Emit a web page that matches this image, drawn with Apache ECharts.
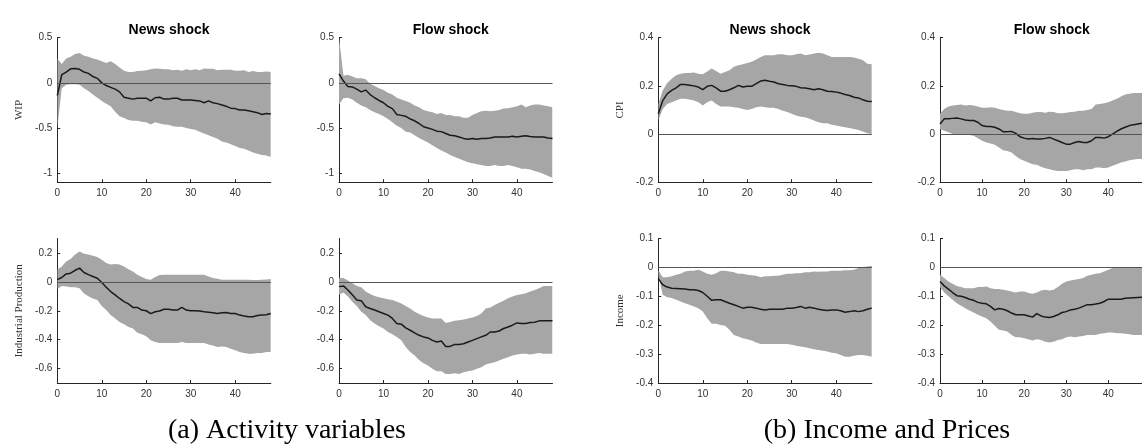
<!DOCTYPE html>
<html>
<head>
<meta charset="utf-8">
<script src="https://cdn.jsdelivr.net/npm/echarts@6/dist/echarts.min.js"></script>
<style>html,body{margin:0;padding:0;background:#fff}#c{width:1142px;height:444px}</style>
</head>
<body>
<div id="c"></div>
<script>
// horizon 0..48
const horizon = Array.from({length: 49}, (_, i) => i);
const xTicks = [0, 10, 20, 30, 40];

// Panel titles / names
const shockTitles = ['News shock', 'Flow shock'];
const varNames = ['WIP', 'Industrial Production', 'CPI', 'Income'];
const captions = ['(a) Activity variables', '(b) Income and Prices'];

// y ranges & ticks
const wipRange = [-1.1, 0.5];   const wipTicks = [-1, -0.5, 0, 0.5];
const ipRange = [-0.7, 0.3];    const ipTicks = [-0.6, -0.4, -0.2, 0, 0.2];
const cpiRange = [-0.2, 0.4];   const cpiTicks = [-0.2, 0, 0.2, 0.4];
const incRange = [-0.4, 0.1];   const incTicks = [-0.4, -0.3, -0.2, -0.1, 0, 0.1];

// WIP - News
const wipNewsMean = [-0.14,0.09,0.12,0.155,0.16,0.15,0.12,0.105,0.07,0.05,0.0,-0.03,-0.05,-0.07,-0.1,-0.16,-0.17,-0.18,-0.17,-0.17,-0.17,-0.2,-0.165,-0.16,-0.18,-0.18,-0.17,-0.17,-0.19,-0.19,-0.19,-0.195,-0.2,-0.22,-0.2,-0.22,-0.23,-0.245,-0.26,-0.28,-0.285,-0.3,-0.3,-0.31,-0.32,-0.33,-0.35,-0.34,-0.345];
const wipNewsHi = [0.27,0.21,0.27,0.29,0.32,0.33,0.3,0.29,0.27,0.26,0.24,0.22,0.24,0.21,0.17,0.135,0.12,0.12,0.13,0.135,0.14,0.15,0.16,0.155,0.15,0.15,0.14,0.145,0.135,0.15,0.14,0.15,0.14,0.16,0.155,0.155,0.14,0.145,0.145,0.145,0.135,0.135,0.14,0.12,0.13,0.12,0.12,0.125,0.12];
const wipNewsLo = [-0.5,-0.06,-0.02,-0.015,-0.015,-0.02,-0.06,-0.09,-0.13,-0.165,-0.2,-0.23,-0.26,-0.32,-0.37,-0.39,-0.41,-0.42,-0.42,-0.43,-0.435,-0.46,-0.435,-0.45,-0.46,-0.465,-0.48,-0.485,-0.485,-0.5,-0.51,-0.52,-0.54,-0.56,-0.58,-0.6,-0.62,-0.65,-0.66,-0.68,-0.7,-0.72,-0.73,-0.75,-0.77,-0.785,-0.8,-0.805,-0.82];

// WIP - Flow
const wipFlowMean = [0.1,0.02,-0.04,-0.045,-0.07,-0.1,-0.08,-0.13,-0.165,-0.195,-0.22,-0.26,-0.285,-0.35,-0.36,-0.37,-0.4,-0.42,-0.45,-0.485,-0.5,-0.515,-0.535,-0.54,-0.56,-0.58,-0.585,-0.6,-0.615,-0.625,-0.615,-0.625,-0.615,-0.615,-0.61,-0.6,-0.6,-0.6,-0.6,-0.59,-0.6,-0.59,-0.585,-0.595,-0.6,-0.6,-0.6,-0.61,-0.615];
const wipFlowHi = [0.5,0.08,0.09,0.07,0.05,0.05,0.04,-0.01,-0.035,-0.06,-0.08,-0.11,-0.13,-0.165,-0.185,-0.2,-0.22,-0.25,-0.27,-0.3,-0.315,-0.325,-0.345,-0.335,-0.355,-0.355,-0.37,-0.37,-0.385,-0.385,-0.355,-0.335,-0.315,-0.31,-0.315,-0.31,-0.3,-0.285,-0.28,-0.27,-0.26,-0.24,-0.27,-0.25,-0.24,-0.24,-0.25,-0.26,-0.27];
const wipFlowLo = [-0.24,-0.17,-0.165,-0.185,-0.22,-0.25,-0.27,-0.3,-0.325,-0.345,-0.37,-0.4,-0.435,-0.475,-0.5,-0.54,-0.55,-0.58,-0.61,-0.635,-0.66,-0.69,-0.72,-0.75,-0.77,-0.8,-0.82,-0.84,-0.86,-0.88,-0.89,-0.9,-0.91,-0.92,-0.92,-0.91,-0.92,-0.92,-0.91,-0.92,-0.935,-0.95,-0.95,-0.96,-0.975,-0.99,-1.01,-1.03,-1.05];

// Industrial Production - News
const ipNewsMean = [0.015,0.03,0.055,0.06,0.08,0.095,0.065,0.05,0.037,0.025,-0.005,-0.037,-0.067,-0.09,-0.115,-0.137,-0.153,-0.177,-0.177,-0.195,-0.2,-0.22,-0.207,-0.202,-0.19,-0.19,-0.195,-0.195,-0.177,-0.195,-0.2,-0.2,-0.202,-0.207,-0.21,-0.214,-0.219,-0.214,-0.212,-0.219,-0.219,-0.23,-0.237,-0.242,-0.242,-0.233,-0.23,-0.228,-0.219];
const ipNewsHi = [0.085,0.107,0.14,0.158,0.19,0.21,0.195,0.19,0.18,0.172,0.153,0.13,0.12,0.123,0.12,0.107,0.088,0.072,0.049,0.033,0.019,0.014,0.033,0.047,0.049,0.049,0.049,0.049,0.049,0.049,0.049,0.049,0.049,0.049,0.037,0.026,0.021,0.014,0.014,0.014,0.014,0.014,0.014,0.014,0.012,0.012,0.014,0.016,0.019];
const ipNewsLo = [-0.05,-0.028,-0.033,-0.037,-0.037,-0.044,-0.08,-0.1,-0.115,-0.126,-0.167,-0.195,-0.23,-0.253,-0.277,-0.293,-0.312,-0.323,-0.353,-0.363,-0.377,-0.405,-0.416,-0.423,-0.423,-0.423,-0.423,-0.423,-0.416,-0.423,-0.423,-0.423,-0.423,-0.423,-0.433,-0.44,-0.451,-0.447,-0.451,-0.463,-0.474,-0.486,-0.493,-0.498,-0.498,-0.493,-0.493,-0.486,-0.486];

// Industrial Production - Flow
const ipFlowMean = [-0.033,-0.028,-0.056,-0.09,-0.126,-0.13,-0.172,-0.184,-0.195,-0.207,-0.219,-0.23,-0.253,-0.288,-0.293,-0.319,-0.335,-0.353,-0.37,-0.381,-0.388,-0.405,-0.416,-0.409,-0.447,-0.447,-0.433,-0.433,-0.428,-0.416,-0.405,-0.393,-0.381,-0.37,-0.347,-0.347,-0.34,-0.323,-0.312,-0.3,-0.284,-0.288,-0.288,-0.281,-0.279,-0.27,-0.27,-0.27,-0.27];
const ipFlowHi = [0.026,0.026,0.009,-0.009,-0.028,-0.037,-0.067,-0.084,-0.098,-0.107,-0.114,-0.121,-0.126,-0.137,-0.149,-0.167,-0.184,-0.207,-0.223,-0.237,-0.247,-0.253,-0.253,-0.253,-0.284,-0.277,-0.27,-0.265,-0.26,-0.253,-0.247,-0.237,-0.219,-0.184,-0.177,-0.16,-0.144,-0.13,-0.114,-0.102,-0.091,-0.086,-0.079,-0.067,-0.056,-0.044,-0.028,-0.028,-0.028];
const ipFlowLo = [-0.09,-0.074,-0.102,-0.137,-0.167,-0.207,-0.23,-0.265,-0.288,-0.307,-0.323,-0.347,-0.363,-0.381,-0.405,-0.451,-0.486,-0.509,-0.54,-0.563,-0.579,-0.602,-0.619,-0.619,-0.637,-0.637,-0.633,-0.637,-0.626,-0.619,-0.614,-0.602,-0.591,-0.572,-0.563,-0.556,-0.544,-0.533,-0.521,-0.509,-0.502,-0.498,-0.498,-0.502,-0.498,-0.493,-0.498,-0.498,-0.498];

// CPI - News
const cpiNewsMean = [0.084,0.139,0.167,0.181,0.192,0.206,0.206,0.203,0.2,0.195,0.184,0.198,0.202,0.192,0.178,0.178,0.184,0.192,0.202,0.195,0.198,0.198,0.209,0.22,0.223,0.219,0.216,0.209,0.206,0.202,0.2,0.198,0.192,0.191,0.188,0.184,0.188,0.184,0.178,0.177,0.174,0.17,0.164,0.16,0.153,0.15,0.142,0.136,0.135];
const cpiNewsHi = [0.125,0.181,0.212,0.23,0.244,0.25,0.253,0.253,0.255,0.25,0.248,0.26,0.272,0.262,0.25,0.258,0.265,0.279,0.286,0.29,0.295,0.3,0.309,0.32,0.327,0.327,0.327,0.331,0.331,0.327,0.327,0.331,0.334,0.327,0.33,0.334,0.337,0.334,0.327,0.32,0.32,0.32,0.32,0.32,0.318,0.313,0.306,0.292,0.29];
const cpiNewsLo = [0.056,0.104,0.125,0.132,0.139,0.146,0.146,0.143,0.139,0.132,0.118,0.132,0.139,0.125,0.114,0.114,0.114,0.111,0.109,0.104,0.1,0.104,0.111,0.114,0.111,0.109,0.109,0.104,0.097,0.091,0.084,0.077,0.072,0.07,0.063,0.056,0.049,0.045,0.045,0.039,0.035,0.031,0.028,0.025,0.021,0.017,0.011,0.003,0.0];

// CPI - Flow
const cpiFlowMean = [0.042,0.063,0.063,0.065,0.067,0.063,0.058,0.056,0.056,0.049,0.035,0.031,0.031,0.028,0.021,0.01,0.01,0.011,0.003,-0.011,-0.017,-0.021,-0.019,-0.021,-0.021,-0.018,-0.014,-0.021,-0.028,-0.035,-0.042,-0.042,-0.035,-0.031,-0.035,-0.035,-0.028,-0.014,-0.014,-0.017,-0.011,0.0,0.011,0.021,0.028,0.035,0.039,0.042,0.045];
const cpiFlowHi = [0.084,0.104,0.114,0.118,0.121,0.123,0.118,0.121,0.118,0.114,0.109,0.109,0.111,0.109,0.104,0.1,0.097,0.097,0.091,0.086,0.084,0.084,0.088,0.091,0.091,0.088,0.093,0.091,0.086,0.086,0.088,0.091,0.093,0.097,0.097,0.1,0.104,0.123,0.125,0.128,0.132,0.139,0.146,0.156,0.164,0.167,0.17,0.17,0.17];
const cpiFlowLo = [0.021,0.014,0.007,0.0,-0.003,-0.003,-0.003,-0.004,-0.007,-0.017,-0.028,-0.035,-0.039,-0.045,-0.056,-0.067,-0.07,-0.077,-0.091,-0.104,-0.111,-0.118,-0.125,-0.128,-0.136,-0.142,-0.146,-0.15,-0.153,-0.153,-0.153,-0.15,-0.146,-0.146,-0.15,-0.146,-0.146,-0.139,-0.139,-0.142,-0.139,-0.132,-0.125,-0.118,-0.114,-0.109,-0.106,-0.104,-0.104];

// Income - News
const incNewsMean = [-0.039,-0.06,-0.068,-0.072,-0.073,-0.074,-0.075,-0.077,-0.077,-0.08,-0.087,-0.1,-0.114,-0.112,-0.112,-0.118,-0.124,-0.129,-0.135,-0.141,-0.138,-0.138,-0.141,-0.145,-0.147,-0.145,-0.145,-0.145,-0.145,-0.141,-0.141,-0.139,-0.135,-0.141,-0.138,-0.141,-0.145,-0.147,-0.149,-0.147,-0.147,-0.15,-0.155,-0.153,-0.15,-0.153,-0.15,-0.145,-0.141];
const incNewsHi = [-0.01,-0.034,-0.034,-0.031,-0.025,-0.022,-0.014,-0.012,-0.012,-0.008,-0.014,-0.022,-0.025,-0.02,-0.012,-0.012,-0.014,-0.017,-0.022,-0.022,-0.025,-0.027,-0.029,-0.034,-0.031,-0.031,-0.029,-0.029,-0.025,-0.022,-0.022,-0.02,-0.02,-0.017,-0.017,-0.014,-0.015,-0.014,-0.014,-0.012,-0.012,-0.012,-0.01,-0.01,-0.008,-0.002,0.001,0.003,0.006];
const incNewsLo = [-0.025,-0.095,-0.103,-0.106,-0.112,-0.118,-0.124,-0.129,-0.135,-0.141,-0.153,-0.176,-0.195,-0.195,-0.199,-0.202,-0.216,-0.234,-0.239,-0.245,-0.249,-0.253,-0.26,-0.265,-0.265,-0.265,-0.265,-0.265,-0.265,-0.265,-0.268,-0.271,-0.274,-0.276,-0.28,-0.283,-0.286,-0.288,-0.291,-0.295,-0.297,-0.303,-0.309,-0.309,-0.306,-0.303,-0.303,-0.306,-0.309];

// Income - Flow
const incFlowMean = [-0.049,-0.064,-0.075,-0.087,-0.098,-0.1,-0.104,-0.11,-0.114,-0.121,-0.124,-0.126,-0.135,-0.147,-0.142,-0.145,-0.15,-0.158,-0.164,-0.164,-0.164,-0.168,-0.172,-0.16,-0.168,-0.172,-0.173,-0.17,-0.164,-0.156,-0.153,-0.147,-0.145,-0.141,-0.135,-0.129,-0.129,-0.127,-0.124,-0.118,-0.11,-0.11,-0.11,-0.11,-0.107,-0.106,-0.105,-0.104,-0.103];
const incFlowHi = [-0.025,-0.037,-0.049,-0.057,-0.064,-0.068,-0.072,-0.072,-0.072,-0.068,-0.068,-0.066,-0.072,-0.075,-0.075,-0.077,-0.08,-0.083,-0.087,-0.083,-0.083,-0.089,-0.091,-0.087,-0.08,-0.077,-0.08,-0.077,-0.068,-0.057,-0.049,-0.045,-0.043,-0.04,-0.037,-0.029,-0.025,-0.022,-0.02,-0.014,-0.008,-0.002,-0.002,0.0,0.001,0.001,0.001,0.001,0.001];
const incFlowLo = [-0.068,-0.087,-0.1,-0.112,-0.124,-0.133,-0.141,-0.149,-0.156,-0.164,-0.17,-0.176,-0.187,-0.202,-0.216,-0.218,-0.222,-0.234,-0.242,-0.242,-0.245,-0.249,-0.253,-0.249,-0.251,-0.257,-0.26,-0.257,-0.251,-0.249,-0.242,-0.239,-0.242,-0.239,-0.237,-0.234,-0.234,-0.234,-0.23,-0.228,-0.225,-0.225,-0.228,-0.228,-0.23,-0.231,-0.234,-0.234,-0.234];

const panels = [
  {title: shockTitles[0], name: varNames[0], range: wipRange, ticks: wipTicks, mean: wipNewsMean, lo: wipNewsLo, hi: wipNewsHi},
  {title: shockTitles[1], name: '', range: wipRange, ticks: wipTicks, mean: wipFlowMean, lo: wipFlowLo, hi: wipFlowHi},
  {title: '', name: varNames[1], range: ipRange, ticks: ipTicks, mean: ipNewsMean, lo: ipNewsLo, hi: ipNewsHi},
  {title: '', name: '', range: ipRange, ticks: ipTicks, mean: ipFlowMean, lo: ipFlowLo, hi: ipFlowHi},
  {title: shockTitles[0], name: varNames[2], range: cpiRange, ticks: cpiTicks, mean: cpiNewsMean, lo: cpiNewsLo, hi: cpiNewsHi},
  {title: shockTitles[1], name: '', range: cpiRange, ticks: cpiTicks, mean: cpiFlowMean, lo: cpiFlowLo, hi: cpiFlowHi},
  {title: '', name: varNames[3], range: incRange, ticks: incTicks, mean: incNewsMean, lo: incNewsLo, hi: incNewsHi},
  {title: '', name: '', range: incRange, ticks: incTicks, mean: incFlowMean, lo: incFlowLo, hi: incFlowHi}
];

// layout (pixels)
const lefts = [57.3, 339, 57.3, 339, 658.3, 940, 658.3, 940];
const tops = [37.7, 37.7, 238.5, 238.5, 37.7, 37.7, 238.5, 238.5];
const W = 213.5, H = 144.5;

const axisColor = '#262626';
const labelFont = {color: '#333', fontSize: 10, fontFamily: 'Liberation Sans, Arial, sans-serif'};

function bandRender(params, api) {
  if (params.dataIndexInside !== 0) return null;
  const n = params.dataInsideLength;
  const upper = [], lower = [];
  for (let k = 0; k < n; k++) {
    const x = api.value(0, k);
    upper.push(api.coord([x, api.value(2, k)]));
    lower.push(api.coord([x, api.value(1, k)]));
  }
  const pts = upper.concat(lower.reverse());
  const cs = params.coordSys;
  return {
    type: 'polygon',
    shape: {points: pts},
    style: {fill: '#a6a6a6', stroke: null},
    clipPath: {type: 'rect', shape: {x: cs.x, y: cs.y, width: cs.width, height: cs.height}}
  };
}

const grids = [], xAxes = [], yAxes = [], series = [], titles = [];
panels.forEach((p, i) => {
  grids.push({left: lefts[i], top: tops[i], width: W, height: H, containLabel: false});
  xAxes.push({
    type: 'value', gridIndex: i, min: 0, max: 48,
    axisLine: {show: true, onZero: false, lineStyle: {color: axisColor, width: 1}},
    axisTick: {show: true, inside: true, length: 3, customValues: xTicks, lineStyle: {color: axisColor}},
    axisLabel: Object.assign({customValues: xTicks, margin: 6}, labelFont),
    splitLine: {show: false}
  });
  yAxes.push({
    type: 'value', gridIndex: i, min: p.range[0], max: p.range[1],
    axisLine: {show: true, onZero: false, lineStyle: {color: axisColor, width: 1}},
    axisTick: {show: true, inside: true, length: 3, customValues: p.ticks, lineStyle: {color: axisColor}},
    axisLabel: Object.assign({customValues: p.ticks, margin: 5}, labelFont),
    splitLine: {show: false},
    name: p.name, nameLocation: 'middle', nameGap: 33, nameRotate: 90,
    nameTextStyle: {fontFamily: 'Liberation Serif, Times New Roman, serif', fontSize: 11, color: '#333'}
  });
  series.push({
    type: 'custom', xAxisIndex: i, yAxisIndex: i, silent: true, z: 1,
    data: horizon.map((h, k) => [h, p.lo[k], p.hi[k]]),
    encode: {x: 0, y: [1, 2]},
    renderItem: bandRender
  });
  series.push({
    type: 'line', xAxisIndex: i, yAxisIndex: i, data: horizon.map((h, k) => [h, p.mean[k]]),
    symbol: 'none', lineStyle: {color: '#1a1a1a', width: 1.5}, z: 3,
    markLine: {silent: true, symbol: 'none', label: {show: false}, animation: false,
      lineStyle: {color: '#555', width: 1, type: 'solid'}, data: [{yAxis: 0}]}
  });
  if (p.title) {
    titles.push({text: p.title, left: lefts[i] + W / 2, top: 18, textAlign: 'center',
      textStyle: {fontFamily: 'Liberation Sans, Arial, sans-serif', fontWeight: 'bold', fontSize: 14, color: '#000'}});
  }
});
titles.push({text: captions[0], left: 282, top: 412, textAlign: 'center',
  textStyle: {fontFamily: 'Liberation Serif, Times New Roman, serif', fontWeight: 'normal', fontSize: 28, color: '#000'}});
titles.push({text: captions[1], left: 882, top: 412, textAlign: 'center',
  textStyle: {fontFamily: 'Liberation Serif, Times New Roman, serif', fontWeight: 'normal', fontSize: 28, color: '#000'}});

const chart = echarts.init(document.getElementById('c'), null, {renderer: 'canvas'});
chart.setOption({
  animation: false,
  backgroundColor: '#fff',
  title: titles,
  grid: grids,
  xAxis: xAxes,
  yAxis: yAxes,
  series: series
});
</script>
</body>
</html>
